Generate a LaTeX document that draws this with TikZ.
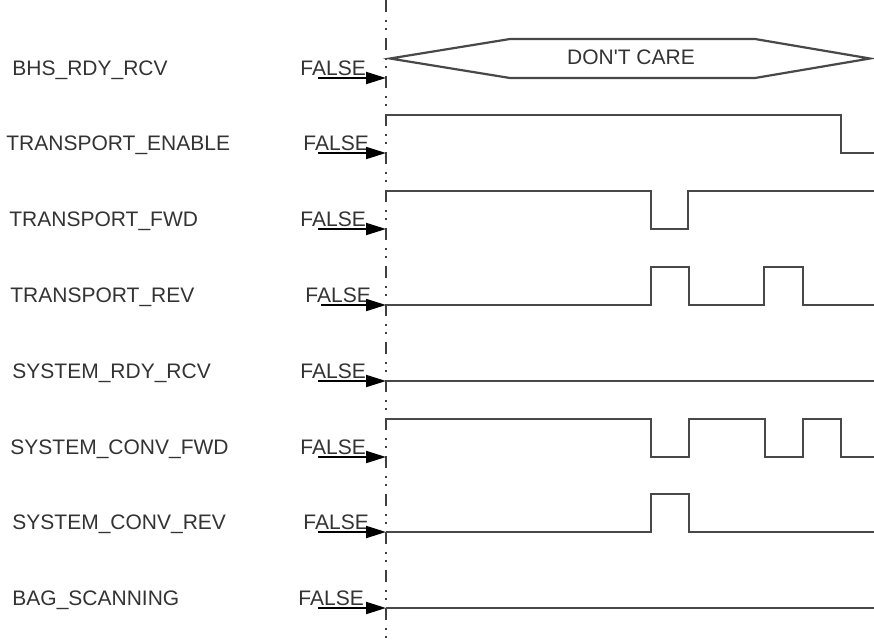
\documentclass[tikz,border=0pt]{standalone}
\usepackage{fontspec}
\setmainfont{Liberation Sans}
\usetikzlibrary{arrows.meta}

\definecolor{sigline}{HTML}{484848}
\definecolor{labeltext}{HTML}{333333}

\tikzset{
  wave/.style={sigline,line width=1.1pt,line join=miter},
  guide/.style={black!75,line width=1pt,
    dash pattern=on 6pt off 4pt on 1pt off 3pt on 1pt off 4pt},
  initarrow/.style={black,line width=1pt,-{Triangle[length=10pt,width=6pt]}},
  sig/.style={anchor=base west,inner sep=0pt,text=labeltext,
    font=\fontsize{10.5}{12}\selectfont},
}

\begin{document}
\begin{tikzpicture}[x=0.5pt,y=-0.5pt]
\useasboundingbox (0,0) rectangle (874,643);
% time zero
\draw[guide] (386,0) -- (386,643);
% BHS_RDY_RCV
\node[sig] (lblBhs) at (12,75) {BHS\_RDY\_RCV};
\node[sig] (valBhs) at (300,75) {FALSE};
\coordinate (fromBhs) at (318,78);
\coordinate (toBhs) at (386,78);
\draw[wave] (390,58.5) -- (510,39) -- (755,39) -- (870,58.5) -- (755,78) -- (510,78) -- cycle;
\node[sig,anchor=center] (dontCare) at (631,57.5) {DON\textquotesingle T CARE};
\draw[initarrow] (fromBhs) -- (toBhs);
% TRANSPORT_ENABLE
\node[sig] (lblEnable) at (6,150) {TRANSPORT\_ENABLE};
\node[sig] (valEnable) at (303,150) {FALSE};
\coordinate (fromEnable) at (318,153);
\coordinate (toEnable) at (386,153);
\draw[wave] (386,115) -- (841,115) -- (841,153) -- (874,153);
\draw[initarrow] (fromEnable) -- (toEnable);
% TRANSPORT_FWD
\node[sig] (lblFwd) at (9,226) {TRANSPORT\_FWD};
\node[sig] (valFwd) at (300,226) {FALSE};
\coordinate (fromFwd) at (318,229);
\coordinate (toFwd) at (386,229);
\draw[wave] (386,191) -- (651,191) -- (651,229) -- (688,229) -- (688,191) -- (874,191);
\draw[initarrow] (fromFwd) -- (toFwd);
% TRANSPORT_REV
\node[sig] (lblRev) at (10,302) {TRANSPORT\_REV};
\node[sig] (valRev) at (305,302) {FALSE};
\coordinate (fromRev) at (321,305);
\coordinate (toRev) at (386,305);
\draw[wave] (386,305) -- (651,305) -- (651,267) -- (689,267) -- (689,305)
  -- (764,305) -- (764,267) -- (803,267) -- (803,305) -- (874,305);
\draw[initarrow] (fromRev) -- (toRev);
% SYSTEM_RDY_RCV
\node[sig] (lblSysRdy) at (12,378) {SYSTEM\_RDY\_RCV};
\node[sig] (valSysRdy) at (300,378) {FALSE};
\coordinate (fromSysRdy) at (318,381);
\coordinate (toSysRdy) at (386,381);
\draw[wave] (386,381) -- (874,381);
\draw[initarrow] (fromSysRdy) -- (toSysRdy);
% SYSTEM_CONV_FWD
\node[sig] (lblConvFwd) at (10,454) {SYSTEM\_CONV\_FWD};
\node[sig] (valConvFwd) at (300,454) {FALSE};
\coordinate (fromConvFwd) at (318,457);
\coordinate (toConvFwd) at (386,457);
\draw[wave] (386,419) -- (651,419) -- (651,457) -- (689,457) -- (689,419)
  -- (765,419) -- (765,457) -- (803,457) -- (803,419) -- (841,419) -- (841,457) -- (874,457);
\draw[initarrow] (fromConvFwd) -- (toConvFwd);
% SYSTEM_CONV_REV
\node[sig] (lblConvRev) at (12,529) {SYSTEM\_CONV\_REV};
\node[sig] (valConvRev) at (303,529) {FALSE};
\coordinate (fromConvRev) at (318,532);
\coordinate (toConvRev) at (386,532);
\draw[wave] (386,532) -- (651,532) -- (651,494) -- (689,494) -- (689,532) -- (874,532);
\draw[initarrow] (fromConvRev) -- (toConvRev);
% BAG_SCANNING
\node[sig] (lblScan) at (12,605) {BAG\_SCANNING};
\node[sig] (valScan) at (298,605) {FALSE};
\coordinate (fromScan) at (318,608);
\coordinate (toScan) at (386,608);
\draw[wave] (386,608) -- (874,608);
\draw[initarrow] (fromScan) -- (toScan);
\end{tikzpicture}
\end{document}
